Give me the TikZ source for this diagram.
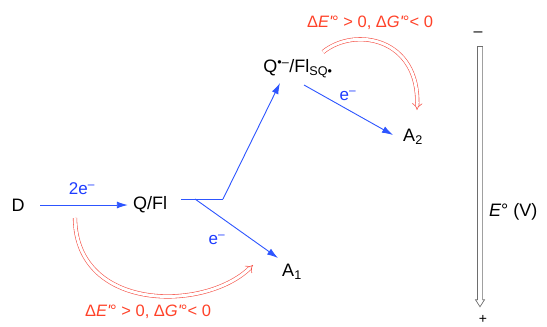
\documentclass[tikz,border=0pt]{standalone}
\usepackage{fontspec}
\setmainfont{Liberation Sans}
\usetikzlibrary{arrows.meta,calc}
\definecolor{eblue}{RGB}{45,85,255}
\definecolor{lblue}{RGB}{30,60,255}
\definecolor{ered}{RGB}{255,65,40}
\definecolor{ared}{RGB}{245,85,75}
\definecolor{agray}{RGB}{110,110,110}
\begin{document}
\begin{tikzpicture}[x=1pt,y=-1pt,
  mainlbl/.style={inner sep=0pt,font=\fontsize{18}{20}\selectfont},
  bluelbl/.style={inner sep=0pt,text=lblue,font=\fontsize{17}{19}\selectfont},
  redlbl/.style={inner sep=0pt,text=ered,font=\fontsize{16.5}{18}\selectfont},
  barrow/.style={draw=eblue,line width=0.9pt,-{Latex[length=11pt,width=7pt]}},
  bline/.style={draw=eblue,line width=0.9pt},
  rarrow/.style={draw=ared,double=white,double distance=3pt,line width=0.6pt,-{Implies}},
  axisbox/.style={draw=agray,fill=white,line width=0.7pt,line join=miter}]
\useasboundingbox (0,0) rectangle (547,327);

% nodes
\node[mainlbl] (D) at (18,205) {D};
\node[mainlbl] (QFl) at (150,205) {Q/Fl};
\node[mainlbl] (Top) at (298,69) {Q\textsuperscript{•–}/Fl\textsubscript{SQ•}};
\node[mainlbl] (A1) at (292,272) {A\textsubscript{1}};
\node[mainlbl] (A2) at (413,137) {A\textsubscript{2}};

% electron labels
\node[bluelbl] (l2e) at (82,189) {2e\textsuperscript{–}};
\node[bluelbl] (le1) at (217,240) {e\textsuperscript{–}};
\node[bluelbl] (le2) at (348,96) {e\textsuperscript{–}};

% red labels
\node[redlbl] (rtop) at (370,23) {Δ{\itshape E\textquotesingle}° > 0, Δ{\itshape G\textquotesingle}°< 0};
\node[redlbl] (rbot) at (148,312) {Δ{\itshape E\textquotesingle}° > 0, Δ{\itshape G\textquotesingle}°< 0};

% branch points
\coordinate (hs) at (181,199);
\coordinate (br0) at (195,199);
\coordinate (br1) at (223,199);

% blue arrows
\draw[barrow] ($(D.center)+(22,0)$) -- ($(QFl.west)+(-5,0)$);
\draw[bline] (hs) -- (br1);
\draw[barrow] (br1) -- ($(Top.center)+(-18,14)$);
\draw[barrow] (br0) -- ($(A1.center)+(-14,-14)$);
\draw[barrow] ($(Top.center)+(6,16)$) -- ($(A2.center)+(-20,-2)$);

% red hollow curved arrows
\draw[rarrow] ($(D.center)+(57,13)$) .. controls (76,312) and (205,312) .. ($(A1.center)+(-39,-7)$);
\draw[rarrow] ($(Top.center)+(25,-17)$) .. controls (355,26) and (420,38) .. ($(A2.center)+(4,-27)$);

% potential axis
\node[inner sep=0pt,font=\fontsize{16}{18}\selectfont] (minus) at (478,34) {–};
\node[inner sep=0pt,font=\fontsize{14}{16}\selectfont] (plus) at (483,319) {+};
\coordinate (atop) at ($(minus.south)+(2,10)$);
\coordinate (atip) at ($(plus.north)+(-3,-8)$);
\draw[axisbox] ($(atop)+(-2.6,0)$) -- ($(atop)+(2.6,0)$) -- ($(atip)+(2.6,-7)$) -- ($(atip)+(4.5,-7)$)
  -- (atip) -- ($(atip)+(-4.5,-7)$) -- ($(atip)+(-2.6,-7)$) -- cycle;
\node[mainlbl,anchor=west] (Eax) at (489,212) {{\itshape E}° (V)};
\end{tikzpicture}
\end{document}
